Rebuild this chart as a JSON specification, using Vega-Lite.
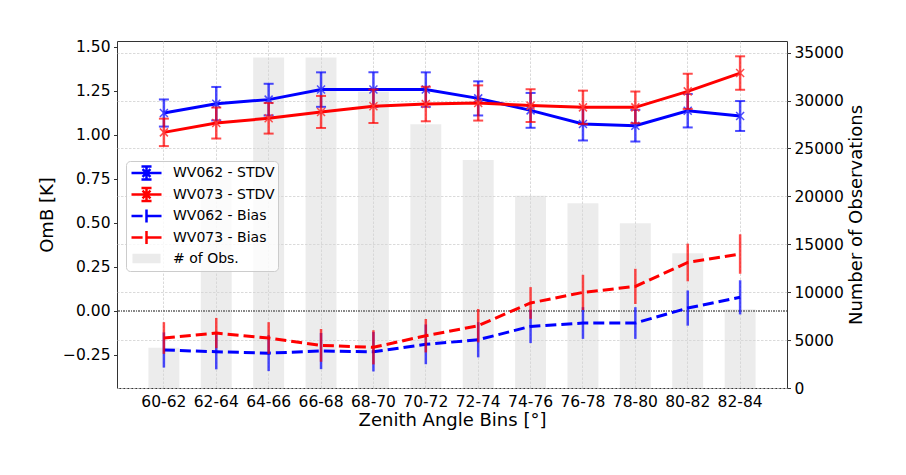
{
  "$schema": "https://vega.github.io/schema/vega-lite/v6.json",
  "width": 670,
  "height": 347,
  "autosize": {"type": "none"},
  "padding": {"left": 117, "top": 41, "right": 119, "bottom": 87},
  "background": "white",
  "config": {
    "font": "DejaVu Sans",
    "view": {"stroke": "#333333", "strokeWidth": 1},
    "axis": {
      "labelFont": "DejaVu Sans",
      "labelFontSize": 15.5,
      "labelColor": "black",
      "titleFont": "DejaVu Sans",
      "titleFontSize": 18,
      "titleFontWeight": "normal",
      "titleColor": "black",
      "tickColor": "#333333",
      "tickSize": 3.5,
      "labelPadding": 3.5,
      "domain": false,
      "gridColor": "#d0d0d0",
      "gridDash": [2.5, 1.5],
      "gridWidth": 0.8
    }
  },
  "datasets": {
    "obs": [
      {"bin": "60-62", "count": 4200},
      {"bin": "62-64", "count": 22230},
      {"bin": "64-66", "count": 34500},
      {"bin": "66-68", "count": 34500},
      {"bin": "68-70", "count": 30930},
      {"bin": "70-72", "count": 27530},
      {"bin": "72-74", "count": 23800},
      {"bin": "74-76", "count": 20070},
      {"bin": "76-78", "count": 19280},
      {"bin": "78-80", "count": 17190},
      {"bin": "80-82", "count": 14060},
      {"bin": "82-84", "count": 8210}
    ],
    "omb": [
      {"bin": "60-62", "series": "WV062 - STDV", "value": 1.123, "err": 0.077},
      {"bin": "62-64", "series": "WV062 - STDV", "value": 1.176, "err": 0.095},
      {"bin": "64-66", "series": "WV062 - STDV", "value": 1.199, "err": 0.09},
      {"bin": "66-68", "series": "WV062 - STDV", "value": 1.256, "err": 0.098},
      {"bin": "68-70", "series": "WV062 - STDV", "value": 1.256, "err": 0.098},
      {"bin": "70-72", "series": "WV062 - STDV", "value": 1.256, "err": 0.098},
      {"bin": "72-74", "series": "WV062 - STDV", "value": 1.206, "err": 0.097},
      {"bin": "74-76", "series": "WV062 - STDV", "value": 1.138, "err": 0.099},
      {"bin": "76-78", "series": "WV062 - STDV", "value": 1.061, "err": 0.094},
      {"bin": "78-80", "series": "WV062 - STDV", "value": 1.051, "err": 0.09},
      {"bin": "80-82", "series": "WV062 - STDV", "value": 1.136, "err": 0.095},
      {"bin": "82-84", "series": "WV062 - STDV", "value": 1.106, "err": 0.085},
      {"bin": "60-62", "series": "WV073 - STDV", "value": 1.013, "err": 0.078},
      {"bin": "62-64", "series": "WV073 - STDV", "value": 1.066, "err": 0.088},
      {"bin": "64-66", "series": "WV073 - STDV", "value": 1.093, "err": 0.087},
      {"bin": "66-68", "series": "WV073 - STDV", "value": 1.129, "err": 0.091},
      {"bin": "68-70", "series": "WV073 - STDV", "value": 1.161, "err": 0.095},
      {"bin": "70-72", "series": "WV073 - STDV", "value": 1.174, "err": 0.098},
      {"bin": "72-74", "series": "WV073 - STDV", "value": 1.18, "err": 0.1},
      {"bin": "74-76", "series": "WV073 - STDV", "value": 1.165, "err": 0.093},
      {"bin": "76-78", "series": "WV073 - STDV", "value": 1.155, "err": 0.095},
      {"bin": "78-80", "series": "WV073 - STDV", "value": 1.155, "err": 0.09},
      {"bin": "80-82", "series": "WV073 - STDV", "value": 1.246, "err": 0.1},
      {"bin": "82-84", "series": "WV073 - STDV", "value": 1.35, "err": 0.095},
      {"bin": "60-62", "series": "WV062 - Bias", "value": -0.223, "err": 0.1},
      {"bin": "62-64", "series": "WV062 - Bias", "value": -0.233, "err": 0.1},
      {"bin": "64-66", "series": "WV062 - Bias", "value": -0.241, "err": 0.102},
      {"bin": "66-68", "series": "WV062 - Bias", "value": -0.229, "err": 0.103},
      {"bin": "68-70", "series": "WV062 - Bias", "value": -0.233, "err": 0.112},
      {"bin": "70-72", "series": "WV062 - Bias", "value": -0.191, "err": 0.113},
      {"bin": "72-74", "series": "WV062 - Bias", "value": -0.165, "err": 0.1},
      {"bin": "74-76", "series": "WV062 - Bias", "value": -0.089, "err": 0.095},
      {"bin": "76-78", "series": "WV062 - Bias", "value": -0.07, "err": 0.09},
      {"bin": "78-80", "series": "WV062 - Bias", "value": -0.07, "err": 0.09},
      {"bin": "80-82", "series": "WV062 - Bias", "value": 0.015, "err": 0.1},
      {"bin": "82-84", "series": "WV062 - Bias", "value": 0.076, "err": 0.097},
      {"bin": "60-62", "series": "WV073 - Bias", "value": -0.155, "err": 0.09},
      {"bin": "62-64", "series": "WV073 - Bias", "value": -0.127, "err": 0.086},
      {"bin": "64-66", "series": "WV073 - Bias", "value": -0.155, "err": 0.09},
      {"bin": "66-68", "series": "WV073 - Bias", "value": -0.197, "err": 0.093},
      {"bin": "68-70", "series": "WV073 - Bias", "value": -0.208, "err": 0.097},
      {"bin": "70-72", "series": "WV073 - Bias", "value": -0.142, "err": 0.095},
      {"bin": "72-74", "series": "WV073 - Bias", "value": -0.085, "err": 0.095},
      {"bin": "74-76", "series": "WV073 - Bias", "value": 0.044, "err": 0.09},
      {"bin": "76-78", "series": "WV073 - Bias", "value": 0.104, "err": 0.1},
      {"bin": "78-80", "series": "WV073 - Bias", "value": 0.138, "err": 0.1},
      {"bin": "80-82", "series": "WV073 - Bias", "value": 0.274, "err": 0.107},
      {"bin": "82-84", "series": "WV073 - Bias", "value": 0.322, "err": 0.112}
    ],
    "legend": [
      {"series": "WV062 - STDV"},
      {"series": "WV073 - STDV"},
      {"series": "WV062 - Bias"},
      {"series": "WV073 - Bias"},
      {"series": "# of Obs."}
    ]
  },
  "layer": [
    {
      "data": {"name": "obs"},
      "mark": {"type": "bar", "color": "#d4d4d4", "opacity": 0.45},
      "encoding": {
        "x": {
          "field": "bin",
          "type": "ordinal",
          "title": "Zenith Angle Bins [°]",
          "scale": {
            "domain": ["60-62", "62-64", "64-66", "66-68", "68-70", "70-72", "72-74", "74-76", "76-78", "78-80", "80-82", "82-84"],
            "paddingInner": 0.41,
            "paddingOuter": 0.6
          },
          "axis": {"labelAngle": 0, "ticks": false, "grid": true, "labelPadding": 6, "titlePadding": 2}
        },
        "y": {
          "field": "count",
          "type": "quantitative",
          "title": "Number of Observations",
          "scale": {"domain": [0, 36220], "nice": false},
          "axis": {
            "orient": "right",
            "values": [0, 5000, 10000, 15000, 20000, 25000, 30000, 35000],
            "format": "d",
            "titleAngle": 270,
            "titleBaseline": "top",
            "titlePadding": 4
          }
        }
      }
    },
    {
      "data": {"name": "omb"},
      "layer": [
        {
          "mark": {"type": "rule", "color": "#888888", "strokeWidth": 1.2, "strokeDash": [1, 1.5]},
          "encoding": {
            "y": {
              "datum": 0,
              "type": "quantitative",
              "title": "OmB [K]",
              "scale": {"domain": [-0.439, 1.532], "nice": false, "zero": false},
              "axis": {
                "values": [-0.25, 0, 0.25, 0.5, 0.75, 1, 1.25, 1.5],
                "format": ".2f",
                "titlePadding": 6
              }
            }
          }
        },
        {
          "transform": [{"filter": "datum.series === 'WV062 - STDV'"}],
          "mark": {"type": "errorbar", "color": "#0000ff", "opacity": 0.7, "thickness": 2.5, "ticks": {"size": 10, "thickness": 2}},
          "encoding": {
            "x": {"field": "bin", "type": "ordinal", "title": "Zenith Angle Bins [°]"},
            "y": {"field": "value", "type": "quantitative", "title": "OmB [K]"},
            "yError": {"field": "err"}
          }
        },
        {
          "transform": [{"filter": "datum.series === 'WV062 - STDV'"}],
          "mark": {"type": "line", "color": "#0000ff", "strokeWidth": 3},
          "encoding": {
            "x": {"field": "bin", "type": "ordinal", "title": "Zenith Angle Bins [°]"},
            "y": {"field": "value", "type": "quantitative", "title": "OmB [K]"}
          }
        },
        {
          "transform": [{"filter": "datum.series === 'WV062 - STDV'"}],
          "mark": {"type": "point", "shape": "M-1,-1L1,1M-1,1L1,-1", "filled": false, "size": 64, "strokeWidth": 1.5, "color": "#3a3aff", "opacity": 0.9},
          "encoding": {
            "x": {"field": "bin", "type": "ordinal", "title": "Zenith Angle Bins [°]"},
            "y": {"field": "value", "type": "quantitative", "title": "OmB [K]"}
          }
        },
        {
          "transform": [{"filter": "datum.series === 'WV073 - STDV'"}],
          "mark": {"type": "errorbar", "color": "#ff0000", "opacity": 0.7, "thickness": 2.5, "ticks": {"size": 10, "thickness": 2}},
          "encoding": {
            "x": {"field": "bin", "type": "ordinal", "title": "Zenith Angle Bins [°]"},
            "y": {"field": "value", "type": "quantitative", "title": "OmB [K]"},
            "yError": {"field": "err"}
          }
        },
        {
          "transform": [{"filter": "datum.series === 'WV073 - STDV'"}],
          "mark": {"type": "line", "color": "#ff0000", "strokeWidth": 3},
          "encoding": {
            "x": {"field": "bin", "type": "ordinal", "title": "Zenith Angle Bins [°]"},
            "y": {"field": "value", "type": "quantitative", "title": "OmB [K]"}
          }
        },
        {
          "transform": [{"filter": "datum.series === 'WV073 - STDV'"}],
          "mark": {"type": "point", "shape": "M-1,-1L1,1M-1,1L1,-1", "filled": false, "size": 64, "strokeWidth": 1.5, "color": "#ff3a3a", "opacity": 0.9},
          "encoding": {
            "x": {"field": "bin", "type": "ordinal", "title": "Zenith Angle Bins [°]"},
            "y": {"field": "value", "type": "quantitative", "title": "OmB [K]"}
          }
        },
        {
          "transform": [{"filter": "datum.series === 'WV062 - Bias'"}],
          "mark": {"type": "errorbar", "color": "#0000ff", "opacity": 0.7, "thickness": 2.5},
          "encoding": {
            "x": {"field": "bin", "type": "ordinal", "title": "Zenith Angle Bins [°]"},
            "y": {"field": "value", "type": "quantitative", "title": "OmB [K]"},
            "yError": {"field": "err"}
          }
        },
        {
          "transform": [{"filter": "datum.series === 'WV062 - Bias'"}],
          "mark": {"type": "line", "color": "#0000ff", "strokeWidth": 3, "strokeDash": [11, 5]},
          "encoding": {
            "x": {"field": "bin", "type": "ordinal", "title": "Zenith Angle Bins [°]"},
            "y": {"field": "value", "type": "quantitative", "title": "OmB [K]"}
          }
        },
        {
          "transform": [{"filter": "datum.series === 'WV073 - Bias'"}],
          "mark": {"type": "errorbar", "color": "#ff0000", "opacity": 0.7, "thickness": 2.5},
          "encoding": {
            "x": {"field": "bin", "type": "ordinal", "title": "Zenith Angle Bins [°]"},
            "y": {"field": "value", "type": "quantitative", "title": "OmB [K]"},
            "yError": {"field": "err"}
          }
        },
        {
          "transform": [{"filter": "datum.series === 'WV073 - Bias'"}],
          "mark": {"type": "line", "color": "#ff0000", "strokeWidth": 3, "strokeDash": [11, 5]},
          "encoding": {
            "x": {"field": "bin", "type": "ordinal", "title": "Zenith Angle Bins [°]"},
            "y": {"field": "value", "type": "quantitative", "title": "OmB [K]"}
          }
        },
        {
          "data": {"name": "legend"},
          "mark": {"type": "point", "filled": false, "opacity": 0},
          "encoding": {
            "color": {
              "field": "series",
              "type": "nominal",
              "scale": {
                "domain": ["WV062 - STDV", "WV073 - STDV", "WV062 - Bias", "WV073 - Bias", "# of Obs."],
                "range": ["#0000ff", "#ff0000", "#0000ff", "#ff0000", "#ebebeb"]
              },
              "legend": {
                "title": null,
                "orient": "none",
                "legendX": 9,
                "legendY": 120,
                "padding": 3,
                "fillColor": "rgba(255,255,255,0.8)",
                "strokeColor": "#cccccc",
                "cornerRadius": 4,
                "symbolSize": 225,
                "symbolOffset": 8.5,
                "symbolStrokeWidth": 2.5,
                "symbolOpacity": 1,
                "labelFont": "DejaVu Sans",
                "labelFontSize": 14,
                "labelColor": "black",
                "labelOffset": 17.5,
                "rowPadding": -2.5,
                "encode": {
                  "symbols": {
                    "update": {
                      "opacity": {"value": 1},
                      "size": {"value": 225},
                      "strokeWidth": {"value": 2.5}
                    }
                  }
                }
              }
            },
            "shape": {
              "field": "series",
              "type": "nominal",
              "scale": {
                "domain": ["WV062 - STDV", "WV073 - STDV", "WV062 - Bias", "WV073 - Bias", "# of Obs."],
                "range": [
                  "M-2,0L2,0M0,-0.87L0,0.87M-0.67,-0.87L0.67,-0.87M-0.67,0.87L0.67,0.87M-0.53,-0.53L0.53,0.53M-0.53,0.53L0.53,-0.53",
                  "M-2,0L2,0M0,-0.87L0,0.87M-0.67,-0.87L0.67,-0.87M-0.67,0.87L0.67,0.87M-0.53,-0.53L0.53,0.53M-0.53,0.53L0.53,-0.53",
                  "M-2,0L-0.52,0M0.13,0L2,0M0,-0.87L0,0.87",
                  "M-2,0L-0.52,0M0.13,0L2,0M0,-0.87L0,0.87",
                  "M-1.87,-0.47L1.87,-0.47M-1.87,-0.16L1.87,-0.16M-1.87,0.16L1.87,0.16M-1.87,0.47L1.87,0.47"
                ]
              },
              "legend": {
                "title": null,
                "orient": "none",
                "legendX": 9,
                "legendY": 120
              }
            }
          }
        }
      ]
    }
  ],
  "resolve": {"scale": {"y": "independent"}}
}
